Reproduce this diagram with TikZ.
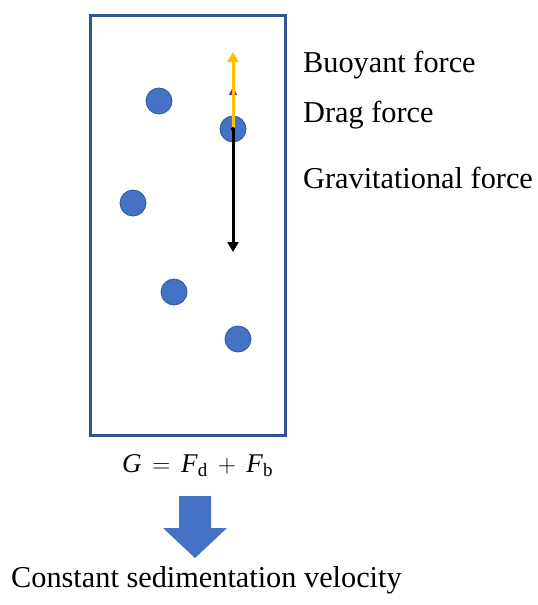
\documentclass[tikz,border=0pt]{standalone}
\usepackage{fontspec}
\setmainfont{Liberation Serif}
\usetikzlibrary{arrows.meta}
\definecolor{boxblue}{HTML}{2F5597}
\definecolor{ballblue}{HTML}{4472C4}
\definecolor{gold}{HTML}{FFC000}
\definecolor{purp}{HTML}{7030A0}
\begin{document}
\begin{tikzpicture}[x=1pt,y=-1pt,
  lbl/.style={anchor=base west,inner sep=0pt,font=\fontsize{30.3}{36}\selectfont},
  ball/.style={circle,fill=ballblue,draw=boxblue,line width=0.8pt,minimum size=26pt,inner sep=0pt},
  force/.style={line width=3pt,-{Triangle[length=10pt,width=11pt]}}]
\useasboundingbox (0,0) rectangle (538,605);
\node[draw=boxblue,line width=3pt,minimum width=195pt,minimum height=420pt,anchor=north west,inner sep=0pt] (box) at (89,14) {};
\node[ball] (b1) at (159,101) {};
\node[ball] (b2) at (233,129) {};
\node[ball] (b3) at (133,203) {};
\node[ball] (b4) at (174,292) {};
\node[ball] (b5) at (238,339) {};
\coordinate (gtip) at (233,252);
\coordinate (btip) at (233,52);
\coordinate (dtip) at (233,87);
\draw[force,black] (b2.center) -- (gtip);
\draw[line width=2pt,purp,-{Triangle[length=8pt,width=8pt]}] (b2.center) -- (dtip);
\draw[force,gold] (b2.center) -- (btip);
\fill[black] (b2.center) circle (2pt);
\node[lbl] (lb) at (303,72) {Buoyant force};
\node[lbl] (ld) at (303,122) {Drag force};
\node[lbl] (lg) at (303,188) {Gravitational force};
\node[lbl,font=\fontsize{27}{32}\selectfont] (eq) at (122,472) {\textit{G}\hspace{0.4em}$=$\hspace{0.4em}\textit{F}\textsubscript{d}\hspace{0.38em}$+$\hspace{0.38em}\textit{F}\textsubscript{b}};
\fill[ballblue] (179,496) -- (211,496) -- (211,528) -- (227,528) -- (195,558) -- (163,528) -- (179,528) -- cycle;
\node[lbl] (lc) at (11,587) {Constant sedimentation velocity};
\end{tikzpicture}
\end{document}
